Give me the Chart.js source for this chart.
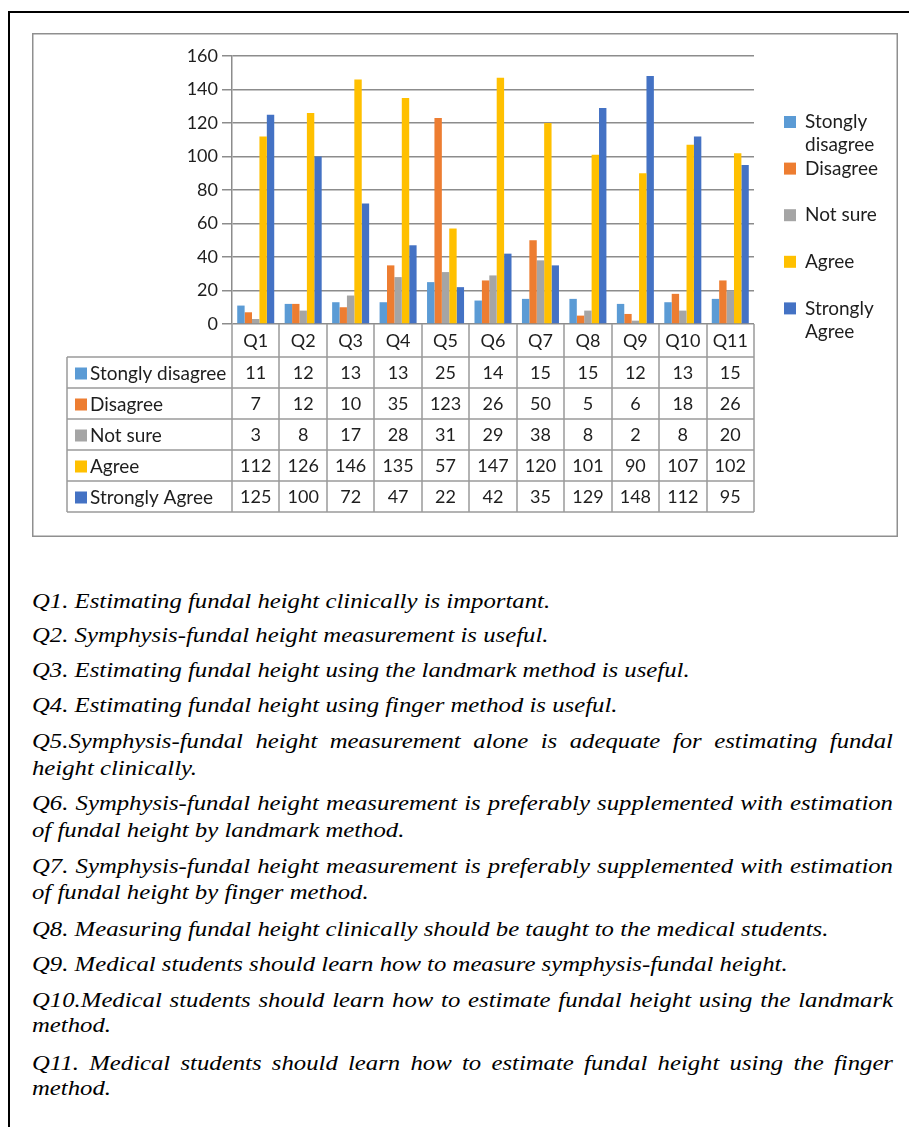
<!DOCTYPE html>
<html>
<head>
<meta charset="utf-8">
<script src="https://cdn.jsdelivr.net/npm/chart.js@4.4.0/dist/chart.umd.min.js"></script>
<style>
  html, body { margin: 0; padding: 0; background: #fff; }
  body { width: 909px; height: 1127px; position: relative; overflow: hidden; }
  #frame { position: absolute; left: 8px; top: 11px; width: 930px; height: 1150px;
           border: 2px solid #000; box-sizing: border-box; }
  #chartWrap { position: absolute; left: 32px; top: 33px; width: 866px; height: 504px; }
  .q { position: absolute; left: 32px; font-family: "Liberation Serif", serif; font-style: italic;
       font-size: 21px; line-height: 21px; color: #000; white-space: nowrap;
       transform-origin: 0 0; }
  .q.j { white-space: normal; text-align: justify; text-align-last: justify; }
</style>
</head>
<body>
<div id="frame"></div>
<div id="chartWrap"><canvas id="c" width="866" height="504"></canvas></div>
<div id="notes"></div>
<script>
// Survey responses per question
const categories = ['Q1','Q2','Q3','Q4','Q5','Q6','Q7','Q8','Q9','Q10','Q11'];
const stonglyDisagree = [11, 12, 13, 13, 25, 14, 15, 15, 12, 13, 15];
const disagree        = [7, 12, 10, 35, 123, 26, 50, 5, 6, 18, 26];
const notSure         = [3, 8, 17, 28, 31, 29, 38, 8, 2, 8, 20];
const agree           = [112, 126, 146, 135, 57, 147, 120, 101, 90, 107, 102];
const stronglyAgree   = [125, 100, 72, 47, 22, 42, 35, 129, 148, 112, 95];
const seriesNames  = ['Stongly disagree', 'Disagree', 'Not sure', 'Agree', 'Strongly Agree'];
const seriesColors = ['#5B9BD5', '#ED7D31', '#A5A5A5', '#FFC000', '#4472C4'];
const yTicks = { min: 0, max: 160, step: 20 };

// Question statements shown under the chart; each entry is one printed line,
// "j" marks lines set fully justified.
const noteLines = [
  { t: 'Q1. Estimating fundal height clinically is important.', y: 609 },
  { t: 'Q2. Symphysis-fundal height measurement is useful.', y: 643 },
  { t: 'Q3. Estimating fundal height using the landmark method is useful.', y: 678 },
  { t: 'Q4. Estimating fundal height using finger method is useful.', y: 713 },
  { t: 'Q5.Symphysis-fundal height measurement alone is adequate for estimating fundal', y: 749, j: true },
  { t: 'height clinically.', y: 776 },
  { t: 'Q6. Symphysis-fundal height measurement is preferably supplemented with estimation', y: 811, j: true },
  { t: 'of fundal height by landmark method.', y: 838 },
  { t: 'Q7. Symphysis-fundal height measurement is preferably supplemented with estimation', y: 874, j: true },
  { t: 'of fundal height by finger method.', y: 900 },
  { t: 'Q8. Measuring fundal height clinically should be taught to the medical students.', y: 937 },
  { t: 'Q9. Medical students should learn how to measure symphysis-fundal height.', y: 972 },
  { t: 'Q10.Medical students should learn how to estimate fundal height using the landmark', y: 1008, j: true },
  { t: 'method.', y: 1033 },
  { t: 'Q11. Medical students should learn how to estimate fundal height using the finger', y: 1071, j: true },
  { t: 'method.', y: 1096 }
];

const NOTE_SCALE = 1.178;
const NOTE_WIDTH = 861;
const notes = document.getElementById('notes');
noteLines.forEach(l => {
  const d = document.createElement('div');
  d.className = 'q' + (l.j ? ' j' : '');
  d.textContent = l.t;
  d.style.top = (l.y - 17.6) + 'px';
  d.style.transform = 'scaleX(' + NOTE_SCALE + ')';
  if (l.j) d.style.width = (NOTE_WIDTH / NOTE_SCALE) + 'px';
  notes.appendChild(d);
});

const FONT = '18px Lato, "Open Sans", sans-serif';
const LABEL_FONT = '19px Lato, "Open Sans", sans-serif';
const TEXT = '#1e1e1e';
const LINE = '#9a9a9a';

// Draws the outer chart border, the data table under the plot and the legend on the right.
const tableAndLegend = {
  id: 'tableAndLegend',
  beforeDraw(chart) {
    const ctx = chart.ctx;
    ctx.save();
    ctx.strokeStyle = '#8f8f8f';
    ctx.lineWidth = 1.5;
    ctx.strokeRect(0.75, 0.75, chart.width - 1.5, chart.height - 1.5);
    ctx.restore();
  },
  afterDraw(chart) {
    const ctx = chart.ctx;
    const xs = chart.scales.x;
    const area = chart.chartArea;
    const n = categories.length;
    const step = xs.getPixelForValue(1) - xs.getPixelForValue(0);
    const tableLeft = 35;
    const headerTop = area.bottom;
    const headerH = 33;
    const rowH = 31;
    const rowsTop = headerTop + headerH;
    const rows = chart.data.datasets.length;
    const bottom = rowsTop + rows * rowH;

    ctx.save();
    ctx.strokeStyle = LINE;
    ctx.lineWidth = 1.5;
    // vertical column separators
    for (let i = 0; i <= n; i++) {
      const x = Math.round(xs.getPixelForValue(i) - step / 2);
      ctx.beginPath();
      ctx.moveTo(x, headerTop);
      ctx.lineTo(x, bottom);
      ctx.stroke();
    }
    // left edge of row labels
    ctx.beginPath();
    ctx.moveTo(tableLeft, rowsTop);
    ctx.lineTo(tableLeft, bottom);
    ctx.stroke();
    // horizontal rules
    for (let r = 0; r <= rows; r++) {
      const y = Math.round(rowsTop + r * rowH);
      ctx.beginPath();
      ctx.moveTo(tableLeft, y);
      ctx.lineTo(area.right, y);
      ctx.stroke();
    }

    ctx.font = FONT;
    ctx.fillStyle = TEXT;
    ctx.textBaseline = 'middle';
    ctx.textAlign = 'center';
    categories.forEach((c, i) => ctx.fillText(c, xs.getPixelForValue(i), headerTop + headerH / 2 + 1));

    chart.data.datasets.forEach((ds, r) => {
      const cy = rowsTop + r * rowH + rowH / 2 + 1;
      ctx.fillStyle = ds.backgroundColor;
      ctx.fillRect(tableLeft + 8, cy - 6, 12, 12);
      ctx.fillStyle = TEXT;
      ctx.textAlign = 'left';
      ctx.font = LABEL_FONT;
      ctx.fillText(ds.label, tableLeft + 23, cy);
      ctx.font = FONT;
      ctx.textAlign = 'center';
      ds.data.forEach((v, i) => ctx.fillText(String(v), xs.getPixelForValue(i), cy));
    });

    // legend, wrapped to the space at the right of the plot
    ctx.font = LABEL_FONT;
    const lx = 752, tx = 773, maxW = 95;
    const firstY = 89, gap = 46.6, lineH = 23;
    chart.data.datasets.forEach((ds, r) => {
      const words = ds.label.split(' ');
      const lines = [];
      let cur = '';
      words.forEach(w => {
        const test = cur ? cur + ' ' + w : w;
        if (cur && ctx.measureText(test).width > maxW) { lines.push(cur); cur = w; }
        else cur = test;
      });
      lines.push(cur);
      const y0 = firstY + r * gap;
      ctx.fillStyle = ds.backgroundColor;
      ctx.fillRect(lx, y0 - 6, 12, 12);
      ctx.fillStyle = TEXT;
      ctx.textAlign = 'left';
      lines.forEach((s, k) => ctx.fillText(s, tx, y0 + k * lineH));
    });
    ctx.restore();
  }
};

const seriesValues = [stonglyDisagree, disagree, notSure, agree, stronglyAgree];

new Chart(document.getElementById('c'), {
  type: 'bar',
  data: {
    labels: categories,
    datasets: seriesNames.map((name, i) => ({
      label: name,
      data: seriesValues[i],
      backgroundColor: seriesColors[i],
      borderWidth: 0,
      categoryPercentage: 0.78,
      barPercentage: 1.0
    }))
  },
  options: {
    responsive: false,
    animation: false,
    events: [],
    layout: { padding: { left: 0, top: 23, right: 144, bottom: 213 } },
    plugins: { legend: { display: false }, tooltip: { enabled: false } },
    scales: {
      x: { display: false },
      y: {
        min: yTicks.min,
        max: yTicks.max,
        ticks: { stepSize: yTicks.step, font: { family: 'Lato', size: 18 }, color: TEXT, padding: 4 },
        grid: { color: '#8c8c8c', lineWidth: 1.5, tickLength: 10 },
        border: { color: '#8c8c8c', width: 1.5 },
        afterFit(s) { s.width = 200; }
      }
    }
  },
  plugins: [tableAndLegend]
});
</script>
</body>
</html>
